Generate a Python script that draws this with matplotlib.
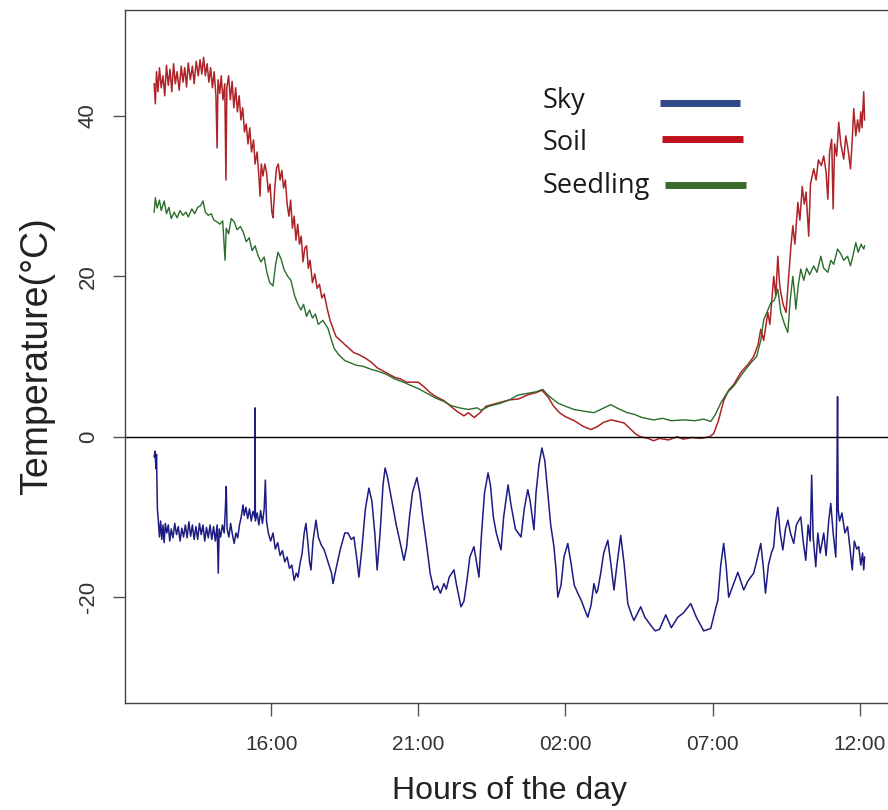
import matplotlib
matplotlib.use("Agg")
import matplotlib.pyplot as plt
from matplotlib.lines import Line2D

plt.rcParams["font.family"] = ["Liberation Sans", "DejaVu Sans"]

# time in hours from midnight of the first day (24+ = next morning)
TICK_HOURS = [16, 21, 26, 31, 36]
Y_TICKS = [-20, 0, 20, 40]

SKY_COLOR = "#1c1c82"
SOIL_COLOR = "#ad2327"
SEED_COLOR = "#2b6d2b"

sky_hours = [
    12.02, 12.05, 12.08, 12.10, 12.13, 12.16, 12.20, 12.24, 12.28, 12.32, 12.36, 12.40,
    12.45, 12.50, 12.55, 12.60, 12.66, 12.72, 12.78, 12.84, 12.90, 12.96, 13.02, 13.08,
    13.14, 13.20, 13.26, 13.32, 13.38, 13.44, 13.50, 13.56, 13.62, 13.68, 13.74, 13.80,
    13.86, 13.92, 13.98, 14.04, 14.10, 14.16, 14.20, 14.23, 14.28, 14.34, 14.40, 14.44,
    14.47, 14.50, 14.56, 14.62, 14.68, 14.74, 14.80, 14.86, 14.92, 14.98, 15.04, 15.08,
    15.14, 15.20, 15.26, 15.32, 15.38, 15.44, 15.45, 15.46, 15.52, 15.58, 15.64, 15.70,
    15.76, 15.80, 15.84, 15.90, 15.98, 16.06, 16.14, 16.22, 16.30, 16.38, 16.46, 16.54,
    16.62, 16.70, 16.78, 16.85, 16.91, 16.97, 17.05, 17.12, 17.18, 17.24, 17.30, 17.35,
    17.42, 17.52, 17.60, 17.70, 17.80, 17.92, 18.05, 18.10, 18.20, 18.35, 18.50, 18.61,
    18.72, 18.81, 18.90, 18.98, 19.08, 19.20, 19.32, 19.42, 19.52, 19.60, 19.70, 19.80,
    19.87, 19.95, 20.10, 20.25, 20.40, 20.51, 20.60, 20.70, 20.80, 20.95, 21.05, 21.15,
    21.30, 21.40, 21.53, 21.65, 21.75, 21.87, 21.95, 22.05, 22.21, 22.30, 22.45, 22.55,
    22.65, 22.75, 22.89, 22.95, 23.06, 23.15, 23.25, 23.37, 23.45, 23.55, 23.65, 23.81,
    23.90, 24.05, 24.15, 24.30, 24.49, 24.60, 24.72, 24.80, 24.93, 25.00, 25.10, 25.20,
    25.30, 25.40, 25.50, 25.61, 25.68, 25.74, 25.85, 25.95, 26.08, 26.20, 26.30, 26.42,
    26.55, 26.65, 26.76, 26.87, 26.97, 27.05, 27.10, 27.20, 27.30, 27.44, 27.55, 27.65,
    27.75, 27.88, 28.00, 28.12, 28.25, 28.33, 28.45, 28.56, 28.70, 28.90, 29.05, 29.20,
    29.41, 29.60, 29.82, 30.00, 30.26, 30.45, 30.70, 30.94, 31.10, 31.18, 31.28, 31.38,
    31.46, 31.55, 31.70, 31.86, 31.96, 32.06, 32.20, 32.40, 32.50, 32.64, 32.72, 32.80,
    32.90, 33.00, 33.08, 33.15, 33.22, 33.30, 33.39, 33.48, 33.56, 33.65, 33.76, 33.85,
    34.00, 34.08, 34.17, 34.25, 34.32, 34.37, 34.42, 34.51, 34.58, 34.66, 34.78, 34.86,
    34.95, 35.02, 35.10, 35.19, 35.22, 35.25, 35.27, 35.32, 35.40, 35.50, 35.59, 35.66,
    35.75, 35.82, 35.90, 35.97, 36.04, 36.10, 36.14, 36.17,
]
sky_temp = [
    -2.5, -1.8, -4.0, -2.2, -9.0, -10.4, -12.5, -10.5, -12.8, -11.0, -13.2, -10.8,
    -12.0, -11.0, -13.0, -11.5, -12.6, -10.8, -12.2, -11.2, -13.0, -11.4, -12.5, -11.0,
    -12.6, -10.6, -12.4, -11.0, -12.8, -11.2, -12.8, -10.8, -12.2, -11.0, -13.0, -11.3,
    -12.6, -11.0, -12.8, -11.2, -13.0, -11.0, -17.0, -11.5, -12.5, -11.0, -12.0, -9.0,
    -6.2, -11.5, -12.5, -10.8, -12.2, -13.3, -12.0, -12.6, -11.0, -10.0, -8.5, -9.8,
    -8.8, -10.2, -9.0, -10.5, -9.3, -10.0, 3.6, -10.5, -9.5, -11.0, -9.2, -10.8,
    -9.0, -5.4, -10.5, -12.0, -13.0, -12.0, -14.0, -13.2, -14.8, -14.2, -15.6, -15.0,
    -16.4, -16.0, -17.9, -17.0, -17.5, -16.0, -14.5, -12.0, -10.8, -13.0, -15.5, -16.6,
    -13.0, -10.4, -12.5, -13.5, -14.1, -15.5, -17.0, -18.3, -16.5, -14.0, -12.0, -12.0,
    -12.8, -12.5, -15.0, -17.5, -14.0, -9.0, -6.4, -8.0, -12.0, -16.6, -12.0, -6.0,
    -3.9, -5.0, -8.0, -11.0, -13.5, -15.4, -13.8, -10.0, -7.0, -5.1, -7.0, -10.0,
    -14.0, -17.0, -19.1, -18.6, -19.5, -18.3, -19.0, -17.5, -16.6, -18.5, -21.2, -20.5,
    -18.0, -15.0, -13.7, -15.0, -17.5, -12.0, -7.0, -4.5, -6.0, -10.0, -12.0, -14.1,
    -10.0, -6.0, -8.5, -11.5, -12.5, -9.0, -6.6, -8.0, -11.6, -7.0, -3.5, -1.4,
    -3.0, -7.0, -11.0, -13.7, -16.5, -20.0, -18.5, -15.0, -13.3, -16.0, -18.5, -19.5,
    -20.5, -21.5, -22.5, -21.0, -18.3, -19.5, -19.1, -17.0, -14.5, -12.9, -16.0, -19.1,
    -16.0, -12.3, -16.0, -20.8, -22.2, -22.9, -22.0, -21.2, -22.5, -23.5, -24.2, -24.0,
    -22.2, -23.8, -22.5, -22.0, -20.8, -22.5, -24.2, -23.9, -21.5, -20.4, -16.0, -13.3,
    -16.0, -20.0, -18.5, -16.9, -18.0, -19.1, -18.0, -17.0, -15.5, -13.3, -16.0, -19.5,
    -16.0, -14.5, -13.7, -10.5, -8.8, -12.0, -14.1, -11.5, -10.4, -12.0, -13.3, -11.0,
    -10.0, -13.0, -15.4, -11.0, -13.0, -4.8, -12.5, -16.2, -12.0, -14.5, -12.0, -14.8,
    -10.5, -8.3, -12.0, -15.0, -10.0, 5.0, -9.1, -10.5, -9.5, -12.0, -11.2, -13.5,
    -16.6, -13.0, -14.0, -13.7, -16.0, -14.5, -16.6, -15.0,
]

soil_hours = [
    12.02, 12.06, 12.10, 12.15, 12.20, 12.26, 12.32, 12.38, 12.44, 12.50, 12.56, 12.62,
    12.68, 12.74, 12.80, 12.87, 12.94, 13.00, 13.06, 13.12, 13.18, 13.25, 13.32, 13.38,
    13.45, 13.52, 13.58, 13.64, 13.70, 13.76, 13.82, 13.88, 13.94, 14.00, 14.06, 14.12,
    14.16, 14.19, 14.25, 14.30, 14.36, 14.42, 14.46, 14.49, 14.55, 14.61, 14.67, 14.73,
    14.79, 14.85, 14.91, 14.97, 15.03, 15.09, 15.15, 15.21, 15.27, 15.33, 15.40, 15.45,
    15.52, 15.58, 15.62, 15.66, 15.72, 15.78, 15.84, 15.90, 15.96, 16.02, 16.06, 16.12,
    16.18, 16.24, 16.30, 16.36, 16.42, 16.48, 16.54, 16.60, 16.66, 16.72, 16.78, 16.84,
    16.90, 16.96, 17.02, 17.08, 17.14, 17.20, 17.26, 17.32, 17.40, 17.48, 17.56, 17.64,
    17.72, 17.80, 17.90, 18.00, 18.10, 18.20, 18.35, 18.50, 18.65, 18.80, 19.00, 19.20,
    19.40, 19.60, 19.80, 20.00, 20.20, 20.40, 20.60, 21.00, 21.20, 21.40, 21.60, 21.87,
    22.10, 22.30, 22.55, 22.70, 22.90, 23.10, 23.30, 23.50, 23.80, 24.10, 24.40, 24.70,
    25.00, 25.20, 25.40, 25.60, 25.80, 26.00, 26.30, 26.60, 26.87, 27.10, 27.30, 27.55,
    27.80, 28.00, 28.20, 28.40, 28.56, 28.80, 29.00, 29.20, 29.50, 29.80, 30.00, 30.30,
    30.60, 30.90, 31.04, 31.20, 31.38, 31.55, 31.72, 31.96, 32.20, 32.40, 32.55, 32.64,
    32.74, 32.88, 32.95, 33.08, 33.15, 33.22, 33.28, 33.32, 33.40, 33.50, 33.56, 33.66,
    33.73, 33.80, 33.90, 33.97, 34.05, 34.12, 34.18, 34.27, 34.33, 34.44, 34.52, 34.60,
    34.70, 34.78, 34.86, 34.92, 34.98, 35.05, 35.10, 35.15, 35.22, 35.29, 35.36, 35.46,
    35.53, 35.60, 35.69, 35.75, 35.80, 35.87, 35.93, 35.99, 36.04, 36.08, 36.14, 36.17,
]
soil_temp = [
    44.0, 41.5, 45.5, 43.0, 46.0, 43.5, 45.0, 42.5, 46.3, 43.8, 45.8, 43.0,
    46.5, 44.0, 45.5, 43.2, 46.2, 44.2, 46.0, 43.6, 46.6, 44.5, 46.2, 44.0,
    46.8, 45.0, 47.0, 45.2, 47.3, 45.0, 46.5, 44.2, 46.0, 43.5, 45.5, 42.5,
    36.0, 44.5, 42.8, 45.0, 42.0, 44.0, 32.0, 43.5, 45.0, 42.0, 44.3, 41.0,
    43.5, 40.5, 42.5, 39.5, 41.0, 38.0, 39.0, 36.5, 38.5, 35.5, 37.0, 34.0,
    35.5, 32.5, 30.0, 34.0, 32.5, 34.0, 33.0, 30.5, 31.5, 28.0, 27.3, 31.0,
    33.5, 34.0, 32.0, 33.2, 31.0, 32.0, 29.0, 27.5, 29.5, 26.0, 27.5, 24.5,
    26.5, 24.0, 25.0, 21.8, 23.5, 23.8, 21.0, 22.0, 19.2, 20.3, 18.5, 19.0,
    17.3, 17.8, 16.0, 14.5, 13.5, 12.5, 12.0, 11.5, 11.0, 10.5, 10.2, 9.8,
    9.3, 8.6, 8.2, 7.8, 7.4, 7.2, 6.8, 6.8, 6.2, 5.5, 5.0, 4.5,
    3.8, 3.2, 2.6, 3.0, 2.4, 3.0, 3.8, 4.0, 4.3, 4.6, 4.7, 5.2,
    5.5, 5.8, 5.0, 3.8, 3.0, 2.5, 2.0, 1.3, 0.9, 1.3, 1.8, 2.1,
    1.9, 1.7, 1.0, 0.3, 0.0, -0.2, -0.5, -0.2, -0.4, 0.0, -0.3, -0.1,
    -0.2, 0.0, 0.4, 2.0, 4.5, 5.8, 6.5, 8.0, 9.0, 10.0, 11.5, 13.4,
    12.0, 15.5, 14.0, 20.0, 17.5, 22.5, 19.0, 18.0, 16.5, 15.5, 18.5, 23.5,
    26.3, 24.0, 29.2, 27.0, 31.2, 29.0, 30.5, 25.0, 31.5, 33.4, 32.0, 34.5,
    33.8, 35.0, 33.0, 29.6, 35.5, 37.1, 28.4, 36.5, 35.0, 39.2, 36.5, 34.6,
    37.5, 36.0, 33.4, 37.0, 40.9, 37.5, 39.5, 38.0, 40.5, 38.5, 43.0, 39.5,
]

seed_hours = [
    12.02, 12.06, 12.12, 12.20, 12.26, 12.36, 12.44, 12.52, 12.60, 12.70, 12.80, 12.90,
    13.00, 13.10, 13.18, 13.30, 13.40, 13.50, 13.60, 13.68, 13.76, 13.86, 13.96, 14.05,
    14.15, 14.25, 14.35, 14.43, 14.47, 14.55, 14.64, 14.74, 14.84, 14.95, 15.05, 15.15,
    15.25, 15.35, 15.45, 15.55, 15.65, 15.76, 15.85, 15.95, 16.06, 16.15, 16.23, 16.33,
    16.44, 16.56, 16.67, 16.80, 16.91, 17.01, 17.10, 17.20, 17.30, 17.40, 17.50, 17.60,
    17.75, 17.93, 18.05, 18.14, 18.30, 18.50, 18.70, 18.90, 19.10, 19.40, 19.60, 19.90,
    20.20, 20.50, 20.80, 21.00, 21.30, 21.60, 21.87, 22.10, 22.40, 22.69, 23.00, 23.13,
    23.40, 23.81, 24.10, 24.39, 24.70, 25.00, 25.23, 25.40, 25.74, 26.00, 26.29, 26.60,
    26.97, 27.20, 27.54, 27.80, 28.10, 28.33, 28.60, 29.00, 29.30, 29.60, 30.02, 30.40,
    30.70, 30.94, 31.10, 31.28, 31.50, 31.72, 32.00, 32.30, 32.50, 32.64, 32.74, 32.85,
    32.98, 33.10, 33.22, 33.32, 33.45, 33.56, 33.64, 33.73, 33.80, 33.83, 33.92, 34.00,
    34.10, 34.20, 34.30, 34.44, 34.55, 34.68, 34.78, 34.92, 35.02, 35.12, 35.25, 35.36,
    35.46, 35.59, 35.69, 35.80, 35.87, 35.95, 36.05, 36.14, 36.17,
]
seed_temp = [
    28.0, 29.8, 28.5, 29.5, 28.2, 29.4, 27.8, 28.6, 27.2, 28.0, 27.3, 28.2,
    27.6, 28.0, 27.4, 28.4, 27.8, 28.6, 28.8, 29.4, 28.0, 27.6, 27.8, 27.0,
    26.8, 26.5, 26.9, 22.0, 26.0, 25.3, 27.2, 26.8, 25.8, 26.2, 25.5, 24.3,
    24.8, 23.2, 23.8, 22.6, 21.8, 22.4, 20.5, 19.2, 18.8, 21.5, 23.0, 22.2,
    20.8, 20.0, 19.5, 17.5, 16.5, 15.8, 16.5, 15.0, 15.8, 14.8, 15.3, 14.0,
    14.5, 13.5, 12.0, 11.0, 10.2, 9.5, 9.2, 8.9, 8.8, 8.4, 8.2, 7.8,
    7.2, 6.8, 6.3, 6.0, 5.4, 4.8, 4.4, 3.9, 3.6, 3.4, 3.6, 3.3,
    3.8, 4.2, 4.6, 5.2, 5.4, 5.6, 5.9, 5.2, 4.2, 3.8, 3.4, 3.2,
    3.0, 3.4, 4.0, 3.5, 3.0, 2.8, 2.4, 2.1, 2.3, 2.0, 2.1, 2.0,
    2.2, 1.9, 2.8, 4.2, 5.5, 6.3, 7.8, 9.2, 10.0, 12.0, 14.6, 15.5,
    16.7, 17.0, 18.4, 15.5, 14.0, 13.0, 17.0, 20.0, 17.5, 15.9, 19.0, 20.9,
    19.5, 21.0, 20.2, 21.3, 20.5, 22.5, 21.0, 20.5, 22.0, 21.5, 23.4, 22.8,
    22.0, 22.5, 21.3, 23.0, 24.2, 23.0, 24.0, 23.4, 23.8,
]

LEGEND_LABELS = ["Sky", "Soil", "Seedling"]
LEGEND_COLORS = ["#2f4a86", "#c0121c", "#3b6a2c"]


def hour_label(h: float) -> str:
    return f"{int(h) % 24:02d}:00"


def draw_legend(fig) -> None:
    # pasted-on legend: labels left, colour bars to the right (pixel layout of the original)
    W, H = 888.0, 810.0
    text_base = [108, 150, 193]
    bar_y = [103, 139, 185]
    bar_x = [(660, 740), (662, 743), (665, 746)]
    for label, color, ty, by, (x0, x1) in zip(LEGEND_LABELS, LEGEND_COLORS, text_base, bar_y, bar_x):
        fig.text(543 / W, 1 - ty / H, label, ha="left", va="baseline",
                 fontsize=19.5, family="Open Sans", color="#1a1a1a")
        fig.add_artist(Line2D([x0 / W, x1 / W], [1 - by / H, 1 - by / H],
                              transform=fig.transFigure, color=color,
                              linewidth=5, solid_capstyle="butt"))


def main() -> None:
    fig = plt.figure(figsize=(8.88, 8.10), dpi=100)
    ax = fig.add_axes([0.1408, 0.132, 0.865, 0.8557])

    ax.plot(soil_hours, soil_temp, color=SOIL_COLOR, linewidth=1.1)
    ax.plot(seed_hours, seed_temp, color=SEED_COLOR, linewidth=1.0)
    ax.plot(sky_hours, sky_temp, color=SKY_COLOR, linewidth=1.1)
    ax.axhline(0, color="black", linewidth=1.0)

    ax.set_xlim(11.03, 37.14)
    ax.set_ylim(-33.2, 53.2)

    ax.set_xticks(TICK_HOURS)
    ax.set_xticklabels([hour_label(h) for h in TICK_HOURS])
    ax.set_yticks(Y_TICKS)
    ax.set_yticklabels([str(v) for v in Y_TICKS], rotation=90, va="center")

    ax.tick_params(axis="both", direction="out", length=9, width=1.0,
                   color="#555555", labelcolor="#333333")
    ax.tick_params(axis="x", pad=14, labelsize=15)
    ax.tick_params(axis="y", pad=10, labelsize=16)
    for spine in ax.spines.values():
        spine.set_color("#444444")
        spine.set_linewidth(1.0)

    ax.set_xlabel("Hours of the day", fontsize=23, labelpad=16, color="#222222")
    ax.set_ylabel("Temperature(°C)", fontsize=27, labelpad=16, color="#222222")

    draw_legend(fig)

    fig.savefig("out.png", dpi=100)
    plt.close(fig)


if __name__ == "__main__":
    main()
